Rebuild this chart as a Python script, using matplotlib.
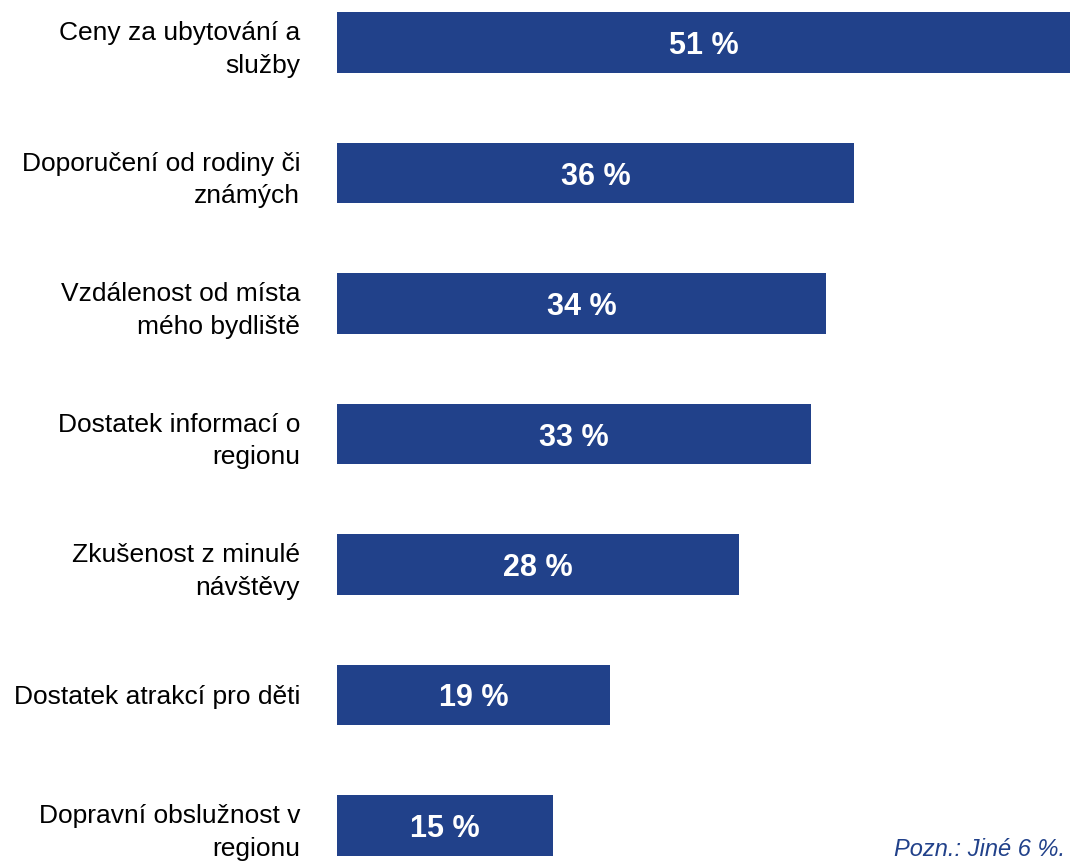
import matplotlib
matplotlib.use("Agg")
import matplotlib.pyplot as plt

categories = [
    "Ceny za ubytování a\nslužby",
    "Doporučení od rodiny či\nznámých",
    "Vzdálenost od místa\nmého bydliště",
    "Dostatek informací o\nregionu",
    "Zkušenost z minulé\nnávštěvy",
    "Dostatek atrakcí pro děti",
    "Dopravní obslužnost v\nregionu",
]
values = [51, 36, 34, 33, 28, 19, 15]
note = "Pozn.: Jiné 6 %."

color = "#21418A"
plt.rcParams['font.family'] = ['Liberation Sans', 'DejaVu Sans']

fig = plt.figure(figsize=(10.7, 8.68), dpi=100)
ax = fig.add_axes([337/1070, 0, 1 - 337/1070, 1])

ypos = list(range(len(categories)))
bars = ax.barh(ypos, values, height=0.467, color=color)
ax.set_xlim(0, 51)
ax.set_ylim(6.326, -0.326)

for y, v in zip(ypos, values):
    ax.text(v / 2, y, f"{v} %", ha='center', va='center_baseline', color='white',
            fontsize=22, fontweight='bold')

ax.set_yticks(ypos)
ax.set_yticklabels(categories, fontsize=19, color='#000000', linespacing=1.45)
ax.tick_params(axis='y', length=0, pad=26.6)
ax.set_xticks([])
for s in ax.spines.values():
    s.set_visible(False)

fig.text(1065/1070, 1 - 850/868, note, ha='right', va='center',
         fontsize=17, style='italic', color=color)

fig.savefig("out.png", dpi=100)
